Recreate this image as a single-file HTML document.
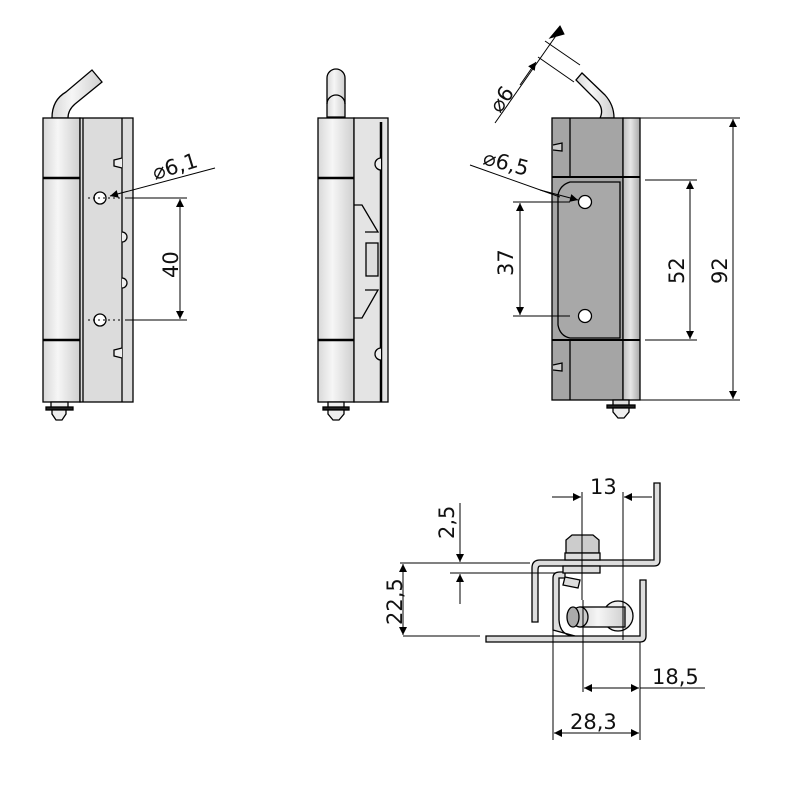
<!DOCTYPE html>
<html><head><style>body{margin:0;background:#fff}svg{display:block}text{font-family:"DejaVu Sans","Liberation Sans",sans-serif;fill:#111}</style></head>
<body>
<svg width="800" height="800" viewBox="0 0 800 800" xmlns="http://www.w3.org/2000/svg">
<defs>
<linearGradient id="bar" x1="0" x2="1"><stop offset="0" stop-color="#d8d8d8"/><stop offset=".4" stop-color="#f6f6f6"/><stop offset="1" stop-color="#cfcfcf"/></linearGradient>
<linearGradient id="bar2" x1="0" x2="1"><stop offset="0" stop-color="#bdbdbd"/><stop offset=".45" stop-color="#e6e6e6"/><stop offset="1" stop-color="#a8a8a8"/></linearGradient>
<marker id="a" viewBox="0 0 10 10" refX="10" refY="5" markerWidth="14" markerHeight="8" orient="auto-start-reverse" markerUnits="userSpaceOnUse"><path d="M0,0L10,5L0,10z" fill="#000"/></marker>
</defs>
<g stroke="#000" stroke-width="1.3">
<!-- VIEW 1 -->
<path d="M52,118 Q52,100 66,92 L92,70 L102,82 L75,104 Q68,110 68,118Z" fill="url(#bar)"/>
<rect x="43" y="118" width="37" height="284" fill="url(#bar)"/>
<line x1="43" y1="178" x2="80" y2="178" stroke-width="2.5"/>
<line x1="43" y1="340" x2="80" y2="340" stroke-width="2.5"/>
<rect x="80" y="118" width="53" height="284" fill="#dcdcdc"/>
<line x1="83" y1="118" x2="83" y2="402"/>
<line x1="122" y1="118" x2="122" y2="402"/>
<path d="M122,158 L114,160 L114,166 L122,168" fill="#eee"/>
<path d="M122,348 L114,350 L114,356 L122,358" fill="#eee"/>
<path d="M122,232 a4,4 0 0 1 0,10" fill="#eee"/>
<path d="M122,278 a4,4 0 0 1 0,10" fill="#eee"/>
<circle cx="100" cy="198" r="6" fill="#fff"/><circle cx="100" cy="320" r="6" fill="#fff"/>
<rect x="51" y="402" width="17" height="6" fill="#eee"/>
<rect x="46" y="407" width="27" height="3" fill="#222"/>
<path d="M52,410 L66,410 L66,414 L62,420 L56,420 L52,414Z" fill="#eee"/>
<!-- VIEW 2 -->
<path d="M327,117 L327,78 a9,9 0 0 1 18,0 L345,117Z" fill="url(#bar)"/>
<path d="M327,104 a9,9 0 0 1 18,0" fill="none"/>
<rect x="318" y="118" width="36" height="284" fill="url(#bar)"/>
<line x1="318" y1="178" x2="354" y2="178" stroke-width="2.5"/>
<line x1="318" y1="340" x2="354" y2="340" stroke-width="2.5"/>
<rect x="354" y="118" width="34" height="284" fill="#e4e4e4"/>
<line x1="381" y1="122" x2="381" y2="402" stroke-width="2.5"/>
<path d="M354,205 L362,205 L378,232 L365,232" fill="none"/>
<path d="M365,290 L378,290 L362,318 L354,318" fill="none"/>
<rect x="366" y="243" width="12" height="33" fill="#ddd"/>
<path d="M381,158 a6,6 0 0 0 0,12 M381,348 a6,6 0 0 0 0,12" fill="#eee"/>
<rect x="328" y="402" width="16" height="6" fill="#eee"/>
<rect x="323" y="407" width="26" height="3" fill="#222"/>
<path d="M328,410 L344,410 L344,414 L339,420 L333,420 L328,414Z" fill="#eee"/>
<!-- VIEW 3 -->
<path d="M614,118 Q614,105 605,95 L582,73 L576,80 L598,102 Q604,110 600,118Z" fill="url(#bar)"/>
<rect x="552" y="118" width="71" height="282" fill="#a5a5a5"/>
<rect x="623" y="118" width="17" height="282" fill="url(#bar2)"/>
<line x1="570" y1="118" x2="570" y2="177"/><line x1="570" y1="340" x2="570" y2="400"/>
<line x1="552" y1="177" x2="640" y2="177" stroke-width="2"/>
<line x1="552" y1="340" x2="640" y2="340" stroke-width="2"/>
<path d="M570,182 Q560,185 558,195 L558,325 Q560,336 570,338 L620,338 L620,182Z" fill="#a8a8a8"/>
<path d="M553,145 L562,143 L562,151 L553,150" fill="#ccc"/><path d="M553,365 L562,363 L562,371 L553,370" fill="#ccc"/>
<circle cx="585" cy="202" r="6.5" fill="#fff"/><circle cx="585" cy="316" r="6.5" fill="#fff"/>
<rect x="613" y="400" width="16" height="6" fill="#ddd"/>
<rect x="607" y="405" width="28" height="3" fill="#222"/>
<path d="M613,408 L629,408 L629,412 L624,418 L618,418 L613,412Z" fill="#eee"/>
<!-- BOTTOM VIEW -->
<path d="M532,622 L532,568 Q532,560 540,560 L654,560 L654,483 L660,483 L660,560 Q660,566 654,566 L540,566 Q538,566 538,570 L538,622Z" fill="#ddd"/>
<path d="M553,630 L553,578 Q553,572 560,572 L565,572 L565,578 L560,578 L559,578 L559,620 Q560,636 575,636Z" fill="#ddd"/>
<path d="M486,636 L640,636 L640,580 L646,580 L646,636 Q646,642 640,642 L486,642Z" fill="#ddd"/>
<path d="M566,553 L566,540 L572,535 L593,535 L599,540 L599,553Z" fill="#ccc"/>
<rect x="565" y="553" width="35" height="7" fill="#ddd"/>
<rect x="563" y="566" width="37" height="7" fill="#ddd"/>
<path d="M565,577 L580,580 L578,588 L563,585Z" fill="#ddd"/>
<circle cx="618" cy="616" r="15" fill="#eee"/>
<rect x="580" y="607" width="45" height="20" fill="url(#bar)"/>
<ellipse cx="580" cy="617" rx="8" ry="10" fill="#ccc"/>
<ellipse cx="573" cy="617" rx="6" ry="10" fill="#aaa"/>
</g>
<!-- dimension lines -->
<g stroke="#000" stroke-width="1" fill="none">
<line x1="125" y1="198" x2="187" y2="198"/><line x1="125" y1="320" x2="187" y2="320"/>
<line x1="180" y1="199" x2="180" y2="319" marker-start="url(#a)" marker-end="url(#a)"/>
<line x1="215" y1="168" x2="110" y2="196" marker-end="url(#a)"/>
<line x1="88" y1="198" x2="120" y2="198" stroke-dasharray="2,3"/><line x1="88" y1="320" x2="120" y2="320" stroke-dasharray="2,3"/>
<line x1="640" y1="118" x2="740" y2="118"/><line x1="640" y1="400" x2="740" y2="400"/>
<line x1="733" y1="119" x2="733" y2="399" marker-start="url(#a)" marker-end="url(#a)"/>
<line x1="645" y1="180" x2="697" y2="180"/><line x1="645" y1="340" x2="697" y2="340"/>
<line x1="690" y1="181" x2="690" y2="339" marker-start="url(#a)" marker-end="url(#a)"/>
<line x1="513" y1="202" x2="570" y2="202"/><line x1="513" y1="316" x2="570" y2="316"/>
<line x1="520" y1="203" x2="520" y2="315" marker-start="url(#a)" marker-end="url(#a)"/>
<line x1="470" y1="165" x2="560" y2="197"/><line x1="540" y1="190" x2="578" y2="200" marker-end="url(#a)"/>
<line x1="495" y1="123" x2="560" y2="30"/>
<line x1="520" y1="85" x2="536" y2="62" marker-end="url(#a)"/>
<line x1="545" y1="41" x2="580" y2="65"/><line x1="538" y1="57" x2="574" y2="82"/>
<path d="M560,26 L564,34 L550,38Z" fill="#000"/>
<line x1="582" y1="492" x2="582" y2="600"/><line x1="623" y1="492" x2="623" y2="640"/>
<line x1="552" y1="497" x2="581" y2="497" marker-end="url(#a)"/>
<line x1="652" y1="497" x2="624" y2="497" marker-end="url(#a)"/>
<line x1="400" y1="563" x2="530" y2="563"/><line x1="450" y1="573" x2="555" y2="573"/>
<line x1="403" y1="636" x2="480" y2="636"/>
<line x1="460" y1="503" x2="460" y2="562" marker-end="url(#a)"/>
<line x1="460" y1="604" x2="460" y2="574" marker-end="url(#a)"/>
<line x1="403" y1="564" x2="403" y2="635" marker-start="url(#a)" marker-end="url(#a)"/>
<line x1="553" y1="630" x2="553" y2="740"/><line x1="640" y1="642" x2="640" y2="740"/>
<line x1="583" y1="600" x2="583" y2="692"/>
<line x1="554" y1="733" x2="639" y2="733" marker-start="url(#a)" marker-end="url(#a)"/>
<line x1="584" y1="688" x2="639" y2="688" marker-start="url(#a)" marker-end="url(#a)"/>
<line x1="640" y1="688" x2="705" y2="688"/>
</g>
<g font-size="21">
<text x="155" y="180" transform="rotate(-17 155 180)">⌀6,1</text>
<text x="178" y="278" transform="rotate(-90 178 278)">40</text>
<text x="513" y="276" transform="rotate(-90 513 276)">37</text>
<text x="684" y="284" transform="rotate(-90 684 284)">52</text>
<text x="727" y="284" transform="rotate(-90 727 284)">92</text>
<text x="482" y="164" transform="rotate(15 482 164)">⌀6,5</text>
<text x="500" y="114" transform="rotate(-55 500 114)">⌀6</text>
<text x="590" y="494">13</text>
<text x="454" y="539" transform="rotate(-90 454 539)">2,5</text>
<text x="402" y="625" transform="rotate(-90 402 625)">22,5</text>
<text x="652" y="684">18,5</text>
<text x="570" y="729">28,3</text>
</g>
</svg>
</body></html>
